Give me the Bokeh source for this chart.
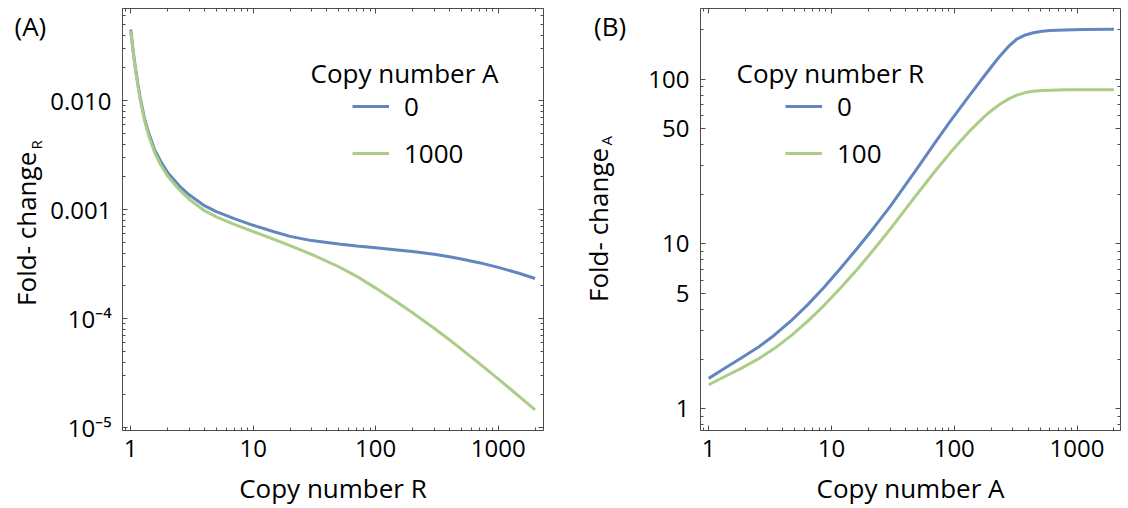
import math
from bokeh.plotting import figure
from bokeh.models import (LogAxis, FixedTicker, Label, Legend, LegendItem,
                          Range1d, ColumnDataSource)
from bokeh.layouts import row
from bokeh.embed import file_html
from bokeh.resources import INLINE

# ---------------- data ----------------
# Panel A: fold-change of R vs copy number R, for copy number A = 0 and 1000
copy_number_R = [1, 1.02, 1.05, 1.1, 1.15, 1.2, 1.3, 1.4, 1.56, 1.75, 2, 2.5, 3, 4, 5, 7,
                 10, 15, 20, 30, 50, 70, 100, 150, 200, 300, 400, 500, 700, 1000, 1500,
                 2000]
fold_change_R_A0 = [0.045, 0.037, 0.028, 0.019, 0.0137, 0.0104, 0.0068, 0.0051, 0.0036,
                    0.0028, 0.00220, 0.00165, 0.00137, 0.00109, 0.00096, 0.00083,
                    0.00072, 0.000625, 0.000570, 0.000521, 0.000486, 0.000466,
                    0.000448, 0.000428, 0.000414, 0.000391, 0.000371, 0.000354,
                    0.000327, 0.000296, 0.000260, 0.000234]
fold_change_R_A1000 = [0.044, 0.036, 0.0272, 0.0183, 0.0132, 0.0100, 0.0065, 0.0048,
                       0.0034, 0.0026, 0.00204, 0.00152, 0.00125, 0.00098, 0.00086,
                       0.000735, 0.00063, 0.000531, 0.000469, 0.000389, 0.000300,
                       0.000245, 0.000191, 0.0001415, 0.0001134, 0.0000819, 0.0000642,
                       0.0000527, 0.0000390, 0.0000281, 0.0000192, 0.0000146]
legend_A_title = "Copy number A"
legend_A_labels = ["0", "1000"]

# Panel B: fold-change of A vs copy number A, for copy number R = 0 and 100
copy_number_A = [1, 1.34, 1.84, 2.51, 3.42, 4.67, 6.38, 8.71, 11.9, 16.3, 22.2, 30.3,
                 49.9, 70, 92.9, 130, 173, 200, 237, 280, 323, 380, 441, 520, 603, 800,
                 1122, 2000]
fold_change_A_R0 = [1.53, 1.756, 2.032, 2.352, 2.795, 3.41, 4.27, 5.46, 7.15, 9.45,
                    12.59, 17.02, 28.74, 41.29, 55.6, 77.8, 102.9, 118.4, 138.7, 159.0,
                    174.7, 185.1, 191.0, 194.8, 196.8, 198.7, 199.8, 200.4]
fold_change_A_R100 = [1.40, 1.565, 1.760, 2.000, 2.319, 2.768, 3.394, 4.245, 5.42, 7.05,
                      9.28, 12.39, 20.1, 27.7, 35.8, 47.4, 58.6, 64.3, 70.6, 76.1, 79.9,
                      82.8, 84.4, 85.2, 85.6, 86.0, 86.1, 86.1]
legend_B_title = "Copy number R"
legend_B_labels = ["0", "100"]

# ticks
x_ticks = [1, 10, 100, 1000]
x_tick_labels = ["1", "10", "100", "1000"]
yA_ticks = [1e-5, 1e-4, 1e-3, 1e-2]
yA_tick_labels = ["10\u207b\u2075", "10\u207b\u2074", "0.001", "0.010"]
yB_ticks = [1, 5, 10, 50, 100]
yB_tick_labels = ["1", "5", "10", "50", "100"]

x_minor = [m * 10 ** k for k in range(-1, 4) for m in range(1, 10)]
yA_minor = [m * 10 ** k for k in range(-6, -1) for m in range(1, 10)]
yB_minor = [m * 10 ** k for k in range(-1, 3) for m in range(1, 10)]

# ---------------- style ----------------
FONT = "Open Sans"
BLUE = "#6286C0"
GREEN = "#ABCD86"
FRAME = "#4D4D4D"
H = 508


def style_axis(ax, ticks, minor, labels=None, standoff=11):
    ax.ticker = FixedTicker(ticks=ticks, minor_ticks=minor)
    ax.major_tick_in = 5
    ax.major_tick_out = 0
    ax.minor_tick_in = 3
    ax.minor_tick_out = 0
    ax.major_tick_line_color = FRAME
    ax.minor_tick_line_color = FRAME
    if labels is not None:
        ax.axis_line_color = FRAME
        ax.major_label_overrides = dict(zip(ticks, labels))
        ax.major_label_text_font = FONT
        ax.major_label_text_font_size = "24px"
        ax.major_label_text_color = "black"
        ax.major_label_standoff = standoff
    else:
        ax.axis_line_color = None
        ax.major_label_overrides = {t: "" for t in ticks}
        ax.major_label_text_font_size = "0px"
        ax.major_label_standoff = 0


def side(width, tag, tag_x, main_x, main_y, sub, sub_x, sub_y):
    # the frame of this helper figure is aligned with the panels' frames,
    # so screen positions are measured from the frame's bottom-left corner
    s = figure(width=width, height=H, x_range=Range1d(0, width), y_range=Range1d(0, H),
               x_axis_location=None, y_axis_location=None, min_border=0,
               toolbar_location=None, output_backend="svg")
    s.grid.visible = False
    s.outline_line_color = None
    s.background_fill_color = "white"
    s.border_fill_color = "white"

    def lab(x, y, text, size, **kw):
        s.add_layout(Label(x=x, y=y, x_units="screen", y_units="screen", text=text,
                           text_font=FONT, text_font_size=size, text_color="black",
                           text_baseline="middle", **kw))
    lab(tag_x, 405, tag, "26px", text_align="left")
    lab(main_x, main_y, "Fold- change", "26px", text_align="left", angle=math.pi / 2)
    lab(sub_x, sub_y, sub, "15px", text_align="left", angle=math.pi / 2)
    return s


def panel(xs, ys0, ys1, xr, yr, yticks, ylabels, yminor, left, right, width,
          leg_title, leg_labels, leg_title_x, leg_x, xlabel):
    p = figure(width=width, height=H, x_axis_type="log", y_axis_type="log",
               x_range=Range1d(*xr), y_range=Range1d(*yr),
               output_backend="svg", toolbar_location=None,
               min_border_left=left, min_border_right=right,
               min_border_top=8, min_border_bottom=77)
    p.grid.visible = False
    p.outline_line_color = FRAME
    p.outline_line_width = 1
    p.background_fill_color = "white"
    p.border_fill_color = "white"

    bx = p.below[0]
    style_axis(bx, x_ticks, x_minor, x_tick_labels, standoff=9)
    bx.axis_label = xlabel
    bx.axis_label_text_font = FONT
    bx.axis_label_text_font_size = "26px"
    bx.axis_label_text_font_style = "normal"
    bx.axis_label_text_color = "black"
    bx.axis_label_standoff = 10
    style_axis(p.left[0], yticks, yminor, ylabels, standoff=11)
    top = LogAxis()
    style_axis(top, x_ticks, x_minor)
    p.add_layout(top, "above")
    rgt = LogAxis()
    style_axis(rgt, yticks, yminor)
    p.add_layout(rgt, "right")

    src = ColumnDataSource(dict(x=xs, y0=ys0, y1=ys1))
    r0 = p.line("x", "y0", source=src, line_color=BLUE, line_width=3)
    r1 = p.line("x", "y1", source=src, line_color=GREEN, line_width=3)

    legend = Legend(items=[LegendItem(label=leg_labels[0], renderers=[r0]),
                           LegendItem(label=leg_labels[1], renderers=[r1])],
                    location=(leg_x, 259), orientation="vertical",
                    glyph_width=37, glyph_height=36, label_height=36,
                    label_standoff=15, spacing=11, padding=0, margin=0,
                    border_line_color=None, background_fill_alpha=0,
                    label_text_font=FONT, label_text_font_size="26px",
                    label_text_color="black")
    p.add_layout(legend)
    p.add_layout(Label(x=leg_title_x, y=358, x_units="screen", y_units="screen",
                       text=leg_title, text_font=FONT, text_font_size="26px",
                       text_color="black", text_align="left", text_baseline="middle"))
    return p


sideA = side(47, "(A)", 14, 25, 124.6, "R", 35, 281.1)
pA = panel(copy_number_R, fold_change_R_A0, fold_change_R_A1000,
           (10 ** -0.067, 10 ** 3.37), (10 ** -5.025, 10 ** -1.154),
           yA_ticks, yA_tick_labels, yA_minor, 73, 37, 533,
           legend_A_title, legend_A_labels, 188, 230, "Copy number R")
sideB = side(65, "(B)", 13.5, 17.5, 128.5, "A", 25, 285)
pB = panel(copy_number_A, fold_change_A_R0, fold_change_A_R100,
           (10 ** -0.067, 10 ** 3.354), (10 ** -0.1315, 10 ** 2.428),
           yB_ticks, yB_tick_labels, yB_minor, 54, 4, 479,
           legend_B_title, legend_B_labels, 36, 85, "Copy number A")

layout = row(sideA, pA, sideB, pB)
open("out.html", "w").write(file_html(layout, INLINE))
